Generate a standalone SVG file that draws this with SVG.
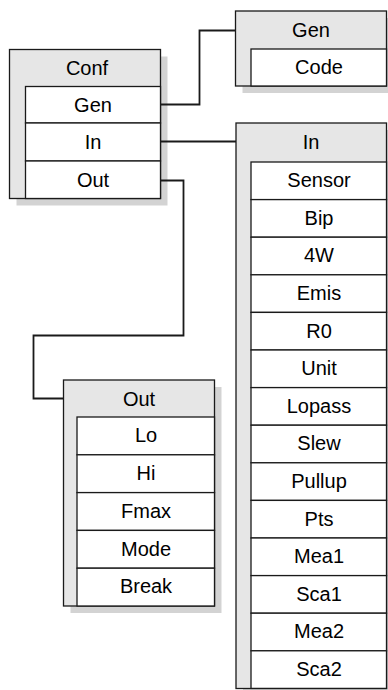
<svg xmlns="http://www.w3.org/2000/svg" width="388" height="690" viewBox="0 0 388 690">
<style>
.sh{fill:#d3d3d3;stroke:none}
.hd{fill:#e6e6e6;stroke:#1a1a1a;stroke-width:1.3}
.it{fill:#ffffff;stroke:#1a1a1a;stroke-width:1.3}
text{font-family:'Liberation Sans',Arial,Helvetica,sans-serif;font-size:20px;fill:#000;text-anchor:middle}
.c{fill:none;stroke:#1a1a1a;stroke-width:1.8}
</style>
<rect width="388" height="690" fill="#fff"/>
<g id="conf">
<rect class="sh" x="16.5" y="56.5" width="151" height="149"/>
<rect class="hd" x="9.5" y="49.5" width="151" height="149"/>
<text x="87" y="74.5">Conf</text>
<rect class="it" x="25.5" y="86.5" width="135" height="36.5"/>
<text x="93" y="111.5">Gen</text>
<rect class="it" x="25.5" y="123" width="135" height="38"/>
<text x="93" y="148.5">In</text>
<rect class="it" x="25.5" y="161" width="135" height="37.5"/>
<text x="93" y="186.5">Out</text>
</g>
<g id="gen">
<rect class="sh" x="242.5" y="18" width="151" height="75"/>
<rect class="hd" x="235.5" y="11" width="151" height="75"/>
<text x="311" y="36.5">Gen</text>
<rect class="it" x="251" y="49" width="135.5" height="37"/>
<text x="319" y="74">Code</text>
</g>
<g id="out">
<rect class="sh" x="70.5" y="387" width="151" height="226"/>
<rect class="hd" x="63.5" y="380" width="151" height="226"/>
<text x="139" y="405.5">Out</text>
<rect class="it" x="77" y="417" width="137.5" height="37.8"/>
<text x="146" y="442">Lo</text>
<rect class="it" x="77" y="454.8" width="137.5" height="37.8"/>
<text x="146" y="480">Hi</text>
<rect class="it" x="77" y="492.6" width="137.5" height="37.8"/>
<text x="146" y="517.5">Fmax</text>
<rect class="it" x="77" y="530.4" width="137.5" height="37.8"/>
<text x="146" y="555.5">Mode</text>
<rect class="it" x="77" y="568.2" width="137.5" height="37.8"/>
<text x="146" y="593">Break</text>
</g>
<g id="in">
<rect class="sh" x="243" y="130" width="151" height="566"/>
<rect class="hd" x="236" y="123" width="150.5" height="565.5"/>
<text x="311" y="149">In</text>
<rect class="it" x="251" y="162" width="135.5" height="37.6"/>
<text x="319" y="187">Sensor</text>
<rect class="it" x="251" y="199.6" width="135.5" height="37.6"/>
<text x="319" y="224.5">Bip</text>
<rect class="it" x="251" y="237.2" width="135.5" height="37.6"/>
<text x="319" y="262">4W</text>
<rect class="it" x="251" y="274.8" width="135.5" height="37.6"/>
<text x="319" y="300">Emis</text>
<rect class="it" x="251" y="312.4" width="135.5" height="37.6"/>
<text x="319" y="337.5">R0</text>
<rect class="it" x="251" y="350" width="135.5" height="37.6"/>
<text x="319" y="375">Unit</text>
<rect class="it" x="251" y="387.6" width="135.5" height="37.6"/>
<text x="319" y="412.5">Lopass</text>
<rect class="it" x="251" y="425.2" width="135.5" height="37.6"/>
<text x="319" y="450">Slew</text>
<rect class="it" x="251" y="462.8" width="135.5" height="37.6"/>
<text x="319" y="488">Pullup</text>
<rect class="it" x="251" y="500.4" width="135.5" height="37.6"/>
<text x="319" y="525.5">Pts</text>
<rect class="it" x="251" y="538" width="135.5" height="37.6"/>
<text x="319" y="563">Mea1</text>
<rect class="it" x="251" y="575.6" width="135.5" height="37.6"/>
<text x="319" y="600.5">Sca1</text>
<rect class="it" x="251" y="613.2" width="135.5" height="37.6"/>
<text x="319" y="638">Mea2</text>
<rect class="it" x="251" y="650.8" width="135.5" height="37.6"/>
<text x="319" y="675.5">Sca2</text>
</g>
<g id="connectors">
<path class="c" d="M161 104.5 H199.5 V30.5 H235.5"/>
<path class="c" d="M161 141.5 H236"/>
<path class="c" d="M161 180.5 H183.5 V335.5 H33.5 V398.5 H63.5"/>
</g>
</svg>
